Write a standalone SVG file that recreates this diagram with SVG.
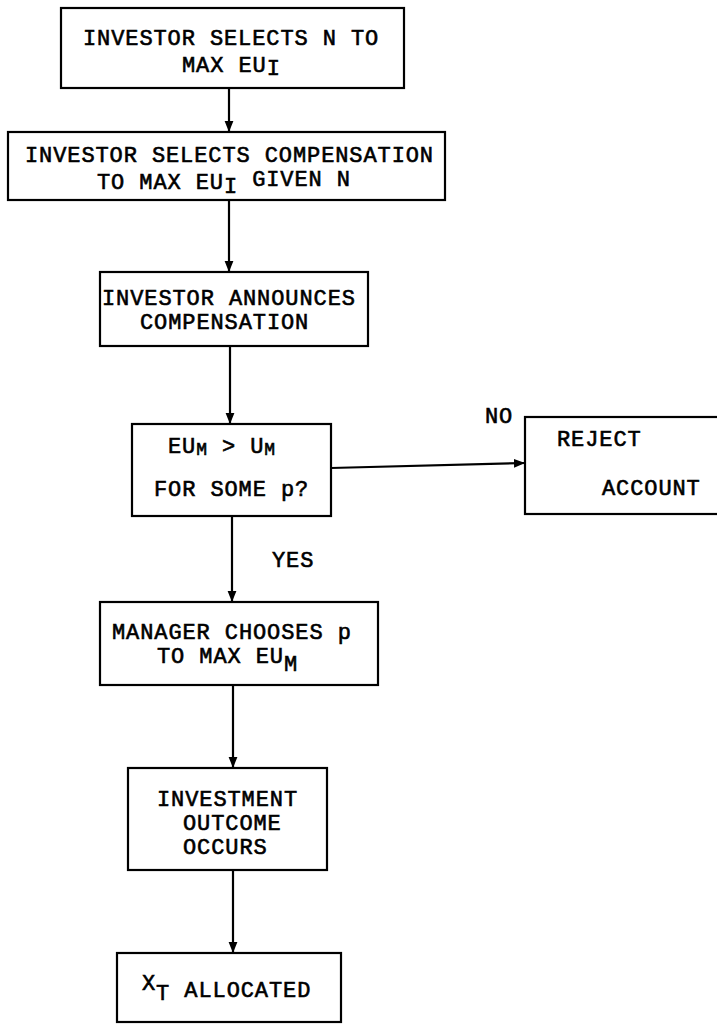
<svg xmlns="http://www.w3.org/2000/svg" width="717" height="1024" viewBox="0 0 717 1024">
<style>
.box{fill:#fff;stroke:#000;stroke-width:2.2}
.t{font-family:"Liberation Mono",monospace;font-size:22px;letter-spacing:0.9px;fill:#000;stroke:#000;stroke-width:0.6}
.s{font-size:18px}
.c{stroke:#000;stroke-width:2.2;fill:none}
</style>
<defs>
<marker id="ah" viewBox="0 0 10 10" refX="10" refY="5" markerWidth="11" markerHeight="11" markerUnits="userSpaceOnUse" orient="auto">
<path d="M0,1 L10,5 L0,9 Z" fill="#000"/>
</marker>
</defs>
<rect width="717" height="1024" fill="#fff"/>
<g id="connectors">
<line class="c" x1="229" y1="88" x2="229" y2="132" marker-end="url(#ah)"/>
<line class="c" x1="229" y1="200" x2="229" y2="272" marker-end="url(#ah)"/>
<line class="c" x1="230" y1="346" x2="230" y2="424" marker-end="url(#ah)"/>
<line class="c" x1="331" y1="468" x2="525" y2="463" marker-end="url(#ah)"/>
<line class="c" x1="232" y1="516" x2="232" y2="602" marker-end="url(#ah)"/>
<line class="c" x1="233" y1="685" x2="233" y2="768" marker-end="url(#ah)"/>
<line class="c" x1="233" y1="870" x2="233" y2="953" marker-end="url(#ah)"/>
<text class="t" x="485" y="423">NO</text>
<text class="t" x="272" y="567">YES</text>
</g>
<g id="n1">
<rect class="box" x="61" y="8" width="343" height="80"/>
<text class="t" x="83" y="45">INVESTOR SELECTS N TO</text>
<text class="t" x="182" y="72">MAX EU<tspan dy="3">I</tspan></text>
</g>
<g id="n2">
<rect class="box" x="8" y="132" width="437" height="68"/>
<text class="t" x="25" y="162">INVESTOR SELECTS COMPENSATION</text>
<text class="t" x="97" y="189">TO MAX EU<tspan dy="4">I</tspan><tspan dy="-7"> GIVEN N</tspan></text>
</g>
<g id="n3">
<rect class="box" x="100" y="272" width="268" height="74"/>
<text class="t" x="102" y="305">INVESTOR ANNOUNCES</text>
<text class="t" x="140" y="329">COMPENSATION</text>
</g>
<g id="n4">
<rect class="box" x="132" y="424" width="199" height="92"/>
<text class="t" x="168" y="453">EU<tspan class="s" dy="2">M</tspan><tspan dy="-2"> &gt; U</tspan><tspan class="s" dy="2">M</tspan></text>
<text class="t" x="154" y="496">FOR SOME p?</text>
</g>
<g id="n5">
<rect class="box" x="100" y="602" width="278" height="83"/>
<text class="t" x="112" y="639">MANAGER CHOOSES p</text>
<text class="t" x="157" y="663">TO MAX EU<tspan dy="8">M</tspan></text>
</g>
<g id="n6">
<rect class="box" x="128" y="768" width="199" height="102"/>
<text class="t" x="157" y="806">INVESTMENT</text>
<text class="t" x="183" y="830">OUTCOME</text>
<text class="t" x="183" y="854">OCCURS</text>
</g>
<g id="n7">
<rect class="box" x="117" y="953" width="224" height="69"/>
<text class="t" x="142" y="990">X<tspan dy="10">T</tspan><tspan dy="-3"> ALLOCATED</tspan></text>
</g>
<g id="n8">
<rect class="box" x="525" y="417" width="200" height="97"/>
<text class="t" x="557" y="446">REJECT</text>
<text class="t" x="602" y="495">ACCOUNT</text>
</g>
</svg>
